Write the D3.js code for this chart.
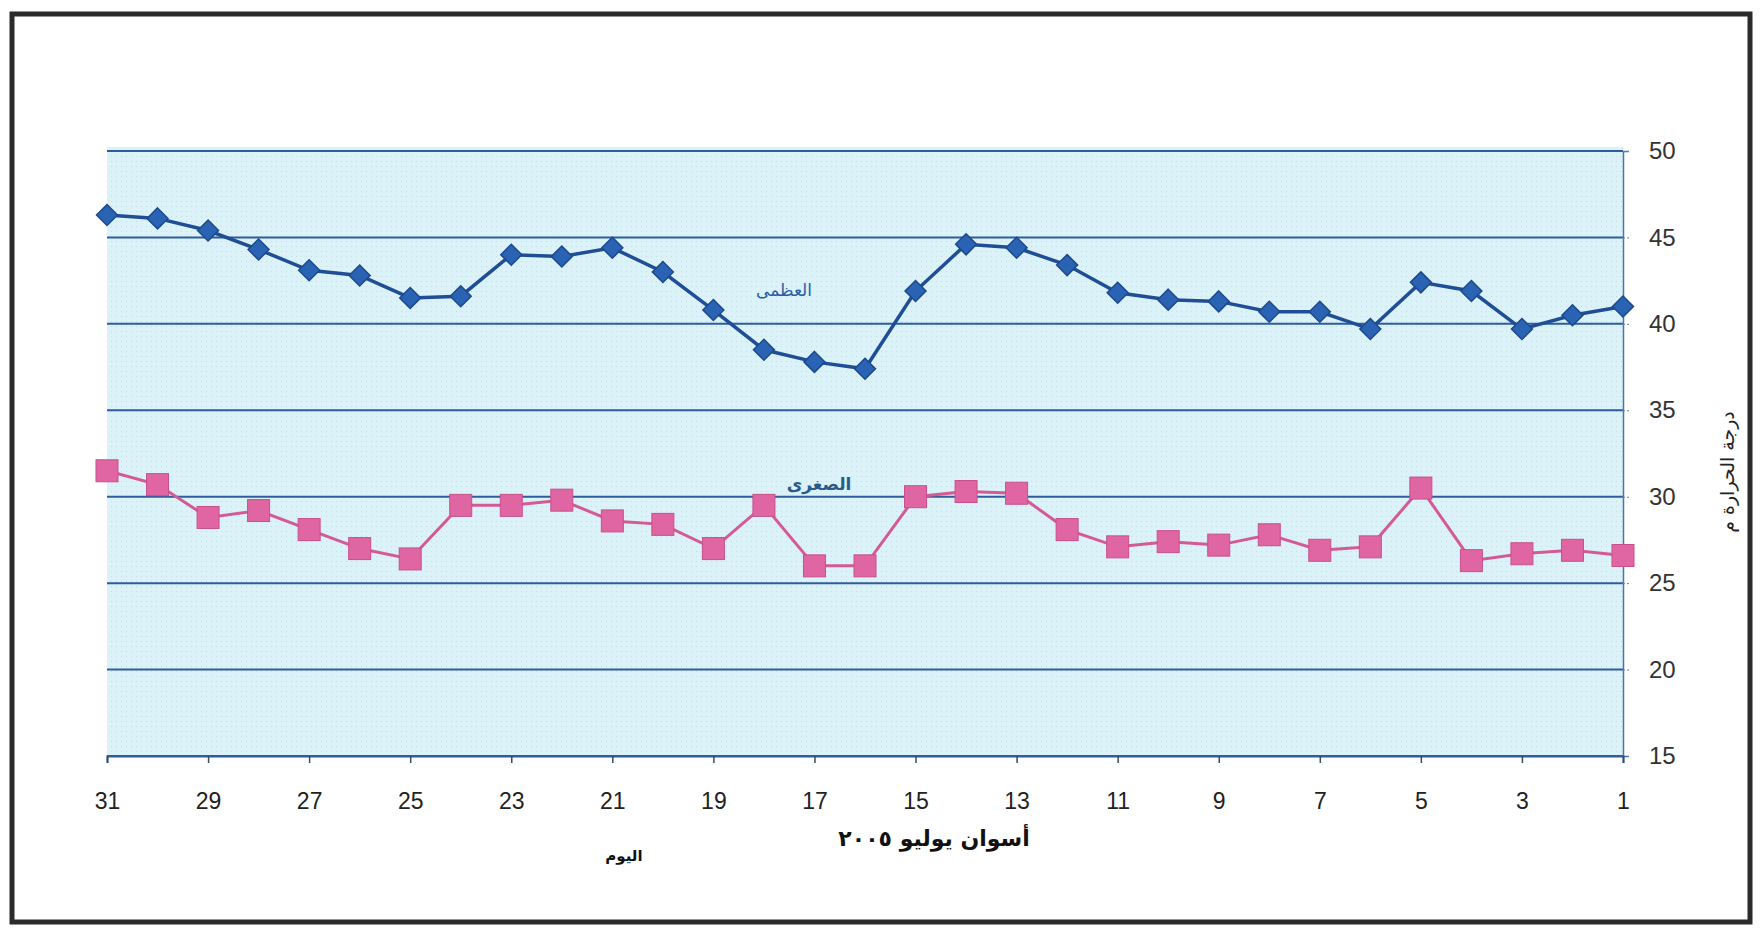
<!DOCTYPE html>
<html>
<head>
<meta charset="utf-8">
<script src="https://cdn.jsdelivr.net/npm/d3@7"></script>
<style>
  body { margin: 0; background: #fff; }
  svg { display: block; }
</style>
</head>
<body>
<svg width="1764" height="933"></svg>
<script>
// days of July 2005, drawn right to left
var days = [31, 30, 29, 28, 27, 26, 25, 24, 23, 22, 21, 20, 19, 18, 17, 16,
            15, 14, 13, 12, 11, 10, 9, 8, 7, 6, 5, 4, 3, 2, 1];
var maxTemp = [46.3, 46.1, 45.4, 44.3, 43.1, 42.8, 41.5, 41.6, 44.0, 43.9, 44.4, 43.0, 40.8, 38.5, 37.8, 37.4,
               41.9, 44.6, 44.4, 43.4, 41.8, 41.4, 41.3, 40.7, 40.7, 39.7, 42.4, 41.9, 39.7, 40.5, 41.0];
var minTemp = [31.5, 30.7, 28.8, 29.2, 28.1, 27.0, 26.4, 29.5, 29.5, 29.8, 28.6, 28.4, 27.0, 29.5, 26.0, 26.0,
               30.0, 30.3, 30.2, 28.1, 27.1, 27.4, 27.2, 27.8, 26.9, 27.1, 30.5, 26.3, 26.7, 26.9, 26.6];
var xTickDays = [31, 29, 27, 25, 23, 21, 19, 17, 15, 13, 11, 9, 7, 5, 3, 1];
var yTicks = [15, 20, 25, 30, 35, 40, 45, 50];

var svg = d3.select("svg");
var numFont = "'Liberation Sans', Arial, 'DejaVu Sans', sans-serif";
var arFont = "'DejaVu Sans', 'Liberation Sans', sans-serif";

var plotLeft = 107, plotRight = 1623, plotTop = 151, plotBottom = 756;

var x = d3.scaleLinear().domain([31, 1]).range([plotLeft, plotRight]);
var y = d3.scaleLinear().domain([15, 50]).range([plotBottom, plotTop]);

// dotted texture for the plot background
var defs = svg.append("defs");
var pat = defs.append("pattern")
    .attr("id", "dots")
    .attr("width", 5).attr("height", 5)
    .attr("patternUnits", "userSpaceOnUse");
pat.append("rect").attr("width", 5).attr("height", 5).attr("fill", "#dcf2f9");
pat.append("rect").attr("x", 1).attr("y", 1).attr("width", 1).attr("height", 1).attr("fill", "#c4dde4");

// outer frame
svg.append("rect")
    .attr("x", 12).attr("y", 14)
    .attr("width", 1738).attr("height", 908)
    .attr("fill", "#fff")
    .attr("stroke", "#2b2b2b")
    .attr("stroke-width", 5);

// plot area
svg.append("rect")
    .attr("x", plotLeft).attr("y", plotTop - 4)
    .attr("width", plotRight - plotLeft).attr("height", plotBottom - plotTop + 4)
    .attr("fill", "url(#dots)");

// horizontal gridlines
svg.append("g")
  .selectAll("line")
  .data(yTicks)
  .enter().append("line")
    .attr("x1", plotLeft).attr("x2", plotRight)
    .attr("y1", function(d) { return y(d); })
    .attr("y2", function(d) { return y(d); })
    .attr("stroke", "#2f5c9e")
    .attr("stroke-width", 2);

// right value axis
var yAxis = svg.append("g")
    .attr("transform", "translate(" + plotRight + ",0)")
    .call(d3.axisRight(y).tickValues(yTicks).tickSize(6).tickPadding(20));
yAxis.select(".domain").attr("stroke", "#4a74b0").attr("stroke-width", 1.5);
yAxis.selectAll(".tick line").attr("stroke", "#6a7f99").attr("stroke-dasharray", "2,2");
yAxis.selectAll("text")
    .attr("font-family", numFont)
    .attr("font-size", 24)
    .attr("fill", "#333");

// bottom category axis
var xAxis = svg.append("g")
    .attr("transform", "translate(0," + plotBottom + ")")
    .call(d3.axisBottom(x).tickValues(xTickDays).tickSize(7).tickPadding(30).tickFormat(d3.format("d")));
xAxis.select(".domain").attr("stroke", "#2f5c9e").attr("stroke-width", 2);
xAxis.selectAll(".tick line").attr("stroke", "#3a4a60").attr("stroke-width", 1.5);
xAxis.selectAll("text")
    .attr("font-family", numFont)
    .attr("font-size", 23)
    .attr("fill", "#222");

// series lines
var line = d3.line()
    .x(function(d) { return x(d.day); })
    .y(function(d) { return y(d.v); });

var maxData = days.map(function(d, i) { return {day: d, v: maxTemp[i]}; });
var minData = days.map(function(d, i) { return {day: d, v: minTemp[i]}; });

svg.append("path")
    .datum(maxData)
    .attr("d", line)
    .attr("fill", "none")
    .attr("stroke", "#1f4e96")
    .attr("stroke-width", 3.5);

svg.append("path")
    .datum(minData)
    .attr("d", line)
    .attr("fill", "none")
    .attr("stroke", "#d45a96")
    .attr("stroke-width", 3);

// diamond markers
svg.append("g")
  .selectAll("path")
  .data(maxData)
  .enter().append("path")
    .attr("d", d3.symbol().type(d3.symbolDiamond2).size(280))
    .attr("transform", function(d) { return "translate(" + x(d.day) + "," + y(d.v) + ")"; })
    .attr("fill", "#2a62b4")
    .attr("stroke", "#1d4a8c")
    .attr("stroke-width", 1.5);

// square markers
svg.append("g")
  .selectAll("rect")
  .data(minData)
  .enter().append("rect")
    .attr("x", function(d) { return x(d.day) - 11; })
    .attr("y", function(d) { return y(d.v) - 11; })
    .attr("width", 22).attr("height", 22)
    .attr("fill", "#df66a3")
    .attr("stroke", "#c8508c")
    .attr("stroke-width", 1);

// series labels
svg.append("text")
    .attr("x", 784).attr("y", 296)
    .attr("direction", "rtl")
    .attr("text-anchor", "middle")
    .attr("font-family", arFont)
    .attr("font-size", 17)
    .attr("fill", "#2a5aa8")
    .text("العظمى");

svg.append("text")
    .attr("x", 819).attr("y", 490)
    .attr("direction", "rtl")
    .attr("text-anchor", "middle")
    .attr("font-family", arFont)
    .attr("font-size", 17)
    .attr("font-weight", "bold")
    .attr("fill", "#2a5a8a")
    .text("الصغرى");

// axis titles
svg.append("text")
    .attr("transform", "translate(1734,472) rotate(-90)")
    .attr("direction", "rtl")
    .attr("text-anchor", "middle")
    .attr("font-family", arFont)
    .attr("font-size", 19)
    .attr("fill", "#222")
    .text("درجة الحرارة م");

svg.append("text")
    .attr("x", 934).attr("y", 846)
    .attr("direction", "rtl")
    .attr("text-anchor", "middle")
    .attr("font-family", arFont)
    .attr("font-size", 22)
    .attr("font-weight", "bold")
    .attr("fill", "#111")
    .text("أسوان يوليو ٢٠٠٥");

svg.append("text")
    .attr("x", 624).attr("y", 861)
    .attr("direction", "rtl")
    .attr("text-anchor", "middle")
    .attr("font-family", arFont)
    .attr("font-size", 15)
    .attr("font-weight", "bold")
    .attr("fill", "#111")
    .text("اليوم");
</script>
</body>
</html>
